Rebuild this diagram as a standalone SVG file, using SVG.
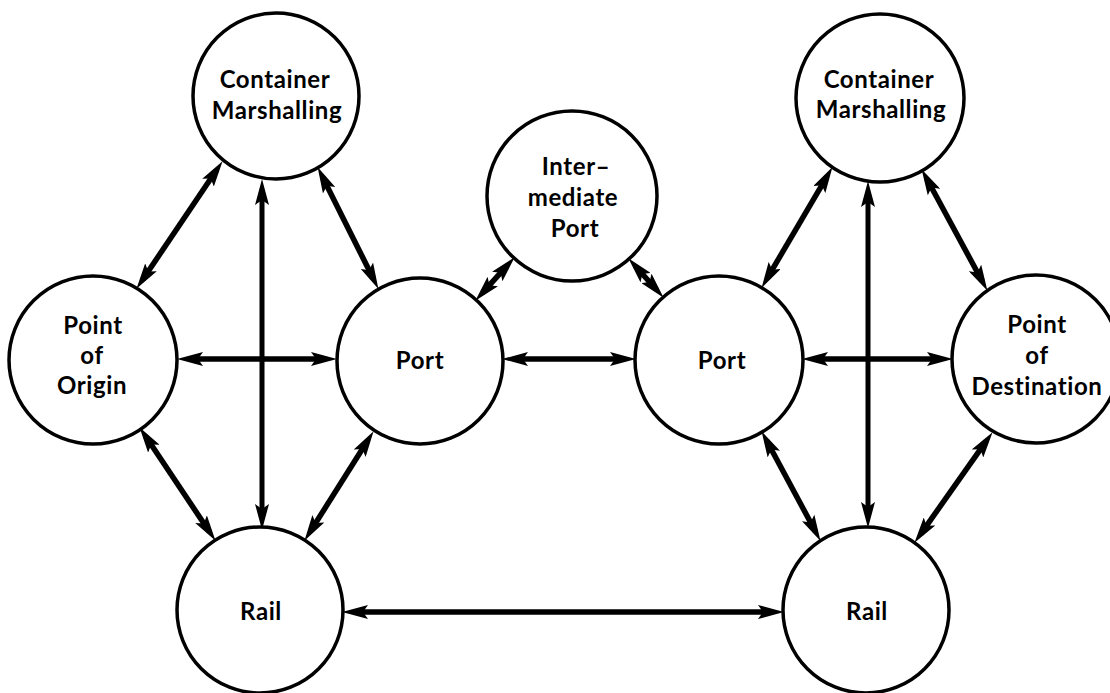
<svg xmlns="http://www.w3.org/2000/svg" width="1110" height="693" viewBox="0 0 1110 693">
<style>
.node circle{fill:#fff;stroke:#000;stroke-width:3.5}
.node text{font-family:Lato,"Liberation Sans",sans-serif;font-weight:700;font-size:24px;fill:#000;text-anchor:middle;letter-spacing:0.6px}
.conn line{stroke:#000;stroke-width:5.5;marker-start:url(#ah);marker-end:url(#ah)}
.conn line.v{stroke-width:5}
</style>
<defs>
<marker id="ah" viewBox="0 0 26 14" refX="15" refY="7" markerWidth="26" markerHeight="14" markerUnits="userSpaceOnUse" orient="auto-start-reverse">
<path d="M0,0 L26,7 L0,14 L5,7 Z" fill="#000"/>
</marker>
</defs>
<rect width="1110" height="693" fill="#fff"/>
<g id="connectors" class="conn">
<line x1="142.6" y1="279.7" x2="216.4" y2="170.3"/>
<line class="v" x1="262" y1="190" x2="262" y2="519"/>
<line x1="322.5" y1="176.9" x2="373.5" y2="279.1"/>
<line x1="188" y1="359" x2="326" y2="359"/>
<line x1="145.6" y1="436.3" x2="209.4" y2="531.7"/>
<line x1="367.7" y1="440.5" x2="310.3" y2="531.5"/>
<line x1="482.7" y1="292.6" x2="507.3" y2="265.4"/>
<line x1="635.7" y1="266.5" x2="656.3" y2="289.5"/>
<line x1="513" y1="359" x2="625" y2="359"/>
<line x1="767.1" y1="278.4" x2="826.9" y2="176.6"/>
<line class="v" x1="868" y1="192" x2="868" y2="517"/>
<line x1="926.8" y1="178.8" x2="982.2" y2="281.2"/>
<line x1="813" y1="359" x2="942" y2="359"/>
<line x1="766.7" y1="440.8" x2="815.3" y2="531.2"/>
<line x1="986.2" y1="441.2" x2="920.8" y2="533.8"/>
<line x1="353" y1="612" x2="773" y2="612"/>
</g>
<g id="cm-left" class="node">
<circle cx="276" cy="96" r="83"/>
<text x="275" y="88">Container</text>
<text x="277" y="119">Marshalling</text>
</g>
<g id="intermediate-port" class="node">
<circle cx="572" cy="196" r="85"/>
<text x="576" y="175">Inter–</text>
<text x="573" y="206">mediate</text>
<text x="575" y="237">Port</text>
</g>
<g id="cm-right" class="node">
<circle cx="880" cy="98" r="84"/>
<text x="879" y="88">Container</text>
<text x="881" y="118">Marshalling</text>
</g>
<g id="point-of-origin" class="node">
<circle cx="93" cy="360" r="84"/>
<text x="93" y="334">Point</text>
<text x="92" y="364">of</text>
<text x="92" y="394">Origin</text>
</g>
<g id="port-left" class="node">
<circle cx="420" cy="361" r="83"/>
<text x="420" y="369">Port</text>
</g>
<g id="port-right" class="node">
<circle cx="719" cy="360" r="84"/>
<text x="722" y="369">Port</text>
</g>
<g id="point-of-destination" class="node">
<circle cx="1036" cy="359" r="84"/>
<text x="1037" y="333">Point</text>
<text x="1037" y="364">of</text>
<text x="1037" y="395">Destination</text>
</g>
<g id="rail-left" class="node">
<circle cx="260" cy="610" r="83"/>
<text x="261" y="620">Rail</text>
</g>
<g id="rail-right" class="node">
<circle cx="866" cy="610" r="83"/>
<text x="867" y="620">Rail</text>
</g>
</svg>
